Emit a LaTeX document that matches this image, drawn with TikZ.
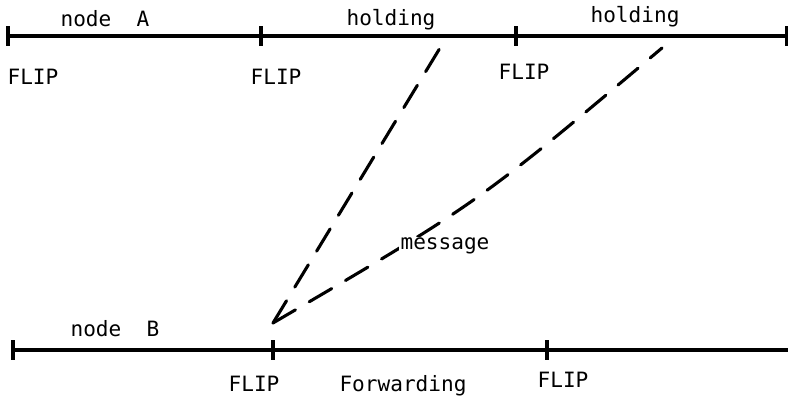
\documentclass[tikz,border=0pt]{standalone}
\usepackage{fontspec}
\setmonofont{DejaVu Sans Mono}
\usetikzlibrary{arrows.meta, positioning}

\tikzset{
  timeline/.style={line width=2.2pt},
  flipmark/.style={fill=black, inner sep=0pt, minimum width=2.4pt, minimum height=0.5cm},
  msgline/.style={line width=2.2pt, dash pattern=on 0.65cm off 0.40cm, line cap=round},
  lbl/.style={font=\ttfamily\fontsize{15}{17}\selectfont, anchor=base, inner sep=0pt}
}

\begin{document}
\begin{tikzpicture}[x=0.025cm, y=-0.025cm]
  \useasboundingbox (0,0) rectangle (788,398);

  % node A time line and its flips
  \foreach \n/\x in {aL/8, aF1/261, aF2/516, aR/787}{
    \node[flipmark] (\n) at (\x,36) {};
  }
  \draw[timeline] (aL.center) -- (aR.center);
  \node[lbl] (nameA) at (105,27) {node\ \ A};
  \node[lbl] (hold1) at (391,26) {holding};
  \node[lbl] (hold2) at (635,23) {holding};
  \node[lbl] (flipA0) at (33,85) {FLIP};
  \node[lbl] (flipA1) at (276,85) {FLIP};
  \node[lbl] (flipA2) at (524,80) {FLIP};

  % node B time line
  \foreach \n/\x in {bL/13, bF1/273, bF2/547}{
    \node[flipmark] (\n) at (\x,350) {};
  }
  \coordinate (bR) at (788,350);
  \draw[timeline] (bL.center) -- (bR);
  \node[lbl] (nameB) at (115,337) {node\ \ B};
  \node[lbl] (flipB1) at (254,392) {FLIP};
  \node[lbl] (fwd) at (403,392) {Forwarding};
  \node[lbl] (flipB2) at (563,388) {FLIP};

  % messages from A to B
  \coordinate (tip) at (273,323);
  \coordinate (src1) at (440,48);
  \coordinate (src2) at (662,48);
  \coordinate (bow) at (478,203);
  \draw[msgline] (tip) -- (src1);
  \draw[msgline] (tip) .. controls (bow) .. (src2);
  \node[lbl, fill=white, inner sep=1pt] (msg) at (445,250) {message};
\end{tikzpicture}
\end{document}
